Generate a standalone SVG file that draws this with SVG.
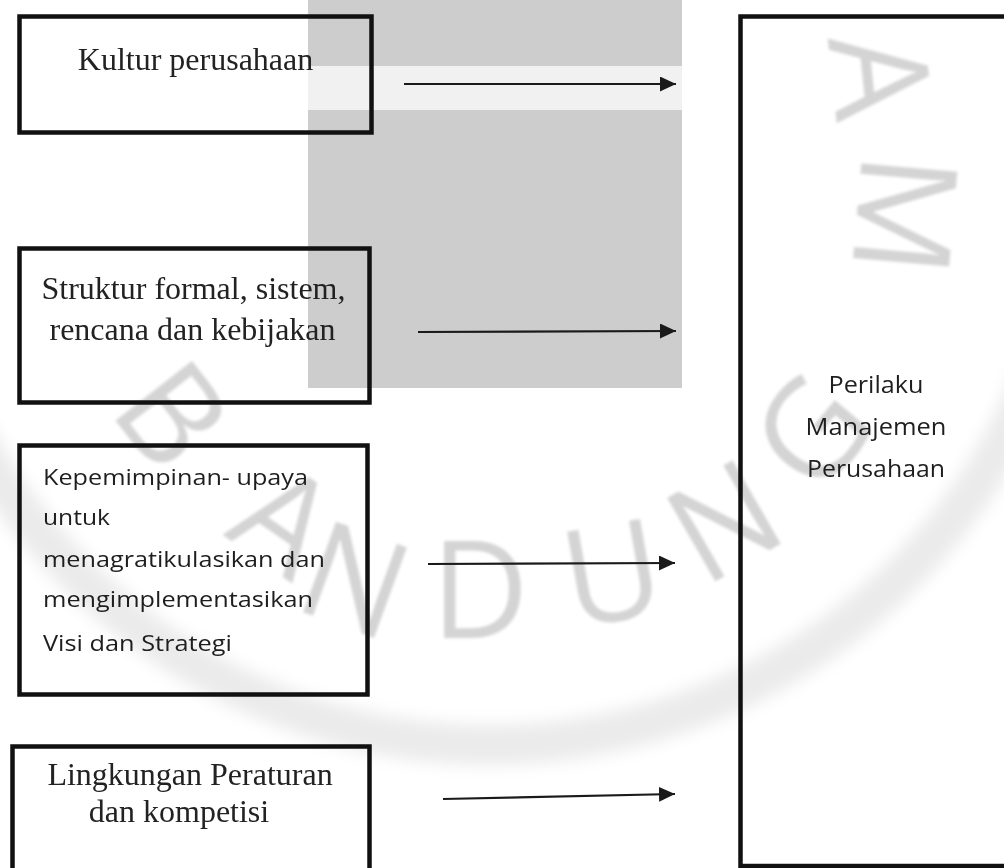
<svg xmlns="http://www.w3.org/2000/svg" width="1004" height="868" viewBox="0 0 1004 868">
<defs>
<style>
.box{fill:none;stroke:#111;stroke-width:4.5}
.serif{font-family:"Liberation Serif","Times New Roman",serif;font-size:32px;fill:#222}
.sans{font-family:"Open Sans","Noto Sans",sans-serif;font-size:22.5px;fill:#1e1e1e}
.sansR{font-family:"Open Sans","Noto Sans",sans-serif;font-size:23.5px;fill:#1e1e1e;text-anchor:middle}
.wm{font-family:"Open Sans","DejaVu Sans",sans-serif;font-size:135px;fill:#000;fill-opacity:0.17;text-anchor:middle}
.arrow{stroke:#1a1a1a;stroke-width:2.2;fill:none;marker-end:url(#ah)}
</style>
<marker id="ah" markerUnits="userSpaceOnUse" markerWidth="18" markerHeight="16" refX="16" refY="7.5" orient="auto">
<path d="M0,0 L16,7.5 L0,15 Z" fill="#1a1a1a"/>
</marker>
<filter id="blur" x="-10%" y="-10%" width="120%" height="120%"><feGaussianBlur stdDeviation="8"/></filter>
<filter id="soft" x="-10%" y="-10%" width="120%" height="120%"><feGaussianBlur stdDeviation="1.5"/></filter>
</defs>
<rect width="1004" height="868" fill="#fff"/>
<g id="watermark-bg">
<circle cx="490" cy="160" r="585" fill="none" stroke="#000" stroke-opacity="0.08" stroke-width="40" filter="url(#blur)"/>
<rect x="308" y="0" width="374" height="66" fill="#cdcdcd"/>
<rect x="308" y="66" width="374" height="44" fill="#f1f1f1"/>
<rect x="308" y="110" width="374" height="278" fill="#cdcdcd"/>
</g>
<g id="watermark-letters" filter="url(#soft)">
<text class="wm" transform="translate(880,76) rotate(84)" y="48">A</text>
<text class="wm" transform="translate(905,215) rotate(95)" y="48">M</text>
<text class="wm" transform="translate(172,415) rotate(52)" y="48">B</text>
<text class="wm" transform="translate(285,520) rotate(35)" y="48">A</text>
<text class="wm" transform="translate(355,580) rotate(20)" y="48">N</text>
<text class="wm" transform="translate(480,590) rotate(0)" y="48">D</text>
<text class="wm" transform="translate(612,573) rotate(-10)" y="48">U</text>
<text class="wm" transform="translate(724,521) rotate(-30)" y="48">N</text>
<text class="wm" transform="translate(812,432) rotate(-50)" y="48">G</text>
</g>
<g id="node-kultur">
<rect class="box" x="19.5" y="16.5" width="352" height="116"/>
<text class="serif" x="195.5" y="70" text-anchor="middle">Kultur perusahaan</text>
</g>
<g id="node-struktur">
<rect class="box" x="19.5" y="248.5" width="350" height="154"/>
<text class="serif" x="193.5" y="299" text-anchor="middle">Struktur formal, sistem,</text>
<text class="serif" x="192.5" y="340" text-anchor="middle">rencana dan kebijakan</text>
</g>
<g id="node-kepemimpinan">
<rect class="box" x="19.5" y="445.5" width="348" height="249"/>
<text class="sans" x="43" y="485" textLength="265" lengthAdjust="spacingAndGlyphs">Kepemimpinan- upaya</text>
<text class="sans" x="43" y="525" textLength="67" lengthAdjust="spacingAndGlyphs">untuk</text>
<text class="sans" x="43" y="567" textLength="282" lengthAdjust="spacingAndGlyphs">menagratikulasikan dan</text>
<text class="sans" x="43" y="607" textLength="270" lengthAdjust="spacingAndGlyphs">mengimplementasikan</text>
<text class="sans" x="43" y="651" textLength="189" lengthAdjust="spacingAndGlyphs">Visi dan Strategi</text>
</g>
<g id="node-lingkungan">
<rect class="box" x="12.5" y="746.5" width="357" height="140"/>
<text class="serif" x="190" y="785" text-anchor="middle">Lingkungan Peraturan</text>
<text class="serif" x="179" y="822" text-anchor="middle">dan kompetisi</text>
</g>
<g id="node-perilaku">
<rect class="box" x="740.5" y="16.5" width="280" height="849.5"/>
<text class="sansR" x="876" y="393" textLength="95" lengthAdjust="spacingAndGlyphs">Perilaku</text>
<text class="sansR" x="876" y="435" textLength="141" lengthAdjust="spacingAndGlyphs">Manajemen</text>
<text class="sansR" x="876" y="477" textLength="138" lengthAdjust="spacingAndGlyphs">Perusahaan</text>
</g>
<g id="connectors">
<line class="arrow" x1="404" y1="84" x2="676" y2="84"/>
<line class="arrow" x1="418" y1="332" x2="676" y2="331"/>
<line class="arrow" x1="428" y1="564" x2="675" y2="563"/>
<line class="arrow" x1="443" y1="799" x2="675" y2="794"/>
</g>
</svg>
